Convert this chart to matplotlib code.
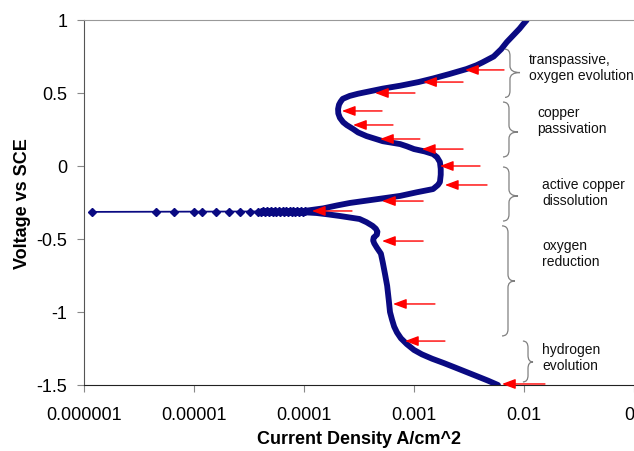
import matplotlib
matplotlib.use("Agg")
import matplotlib.pyplot as plt
from matplotlib.path import Path
from matplotlib.patches import PathPatch

plt.rcParams["font.family"] = ["Liberation Sans", "DejaVu Sans"]

# cathodic branch: -1.5 V up to the corrosion potential (current in A/cm^2)
cath_V = [-1.50, -1.47, -1.44, -1.41, -1.38, -1.35, -1.32, -1.29, -1.26, -1.22, -1.18,
          -1.14, -1.10, -1.05, -1.00, -0.92, -0.82, -0.74, -0.66, -0.60, -0.56, -0.53,
          -0.51, -0.49, -0.47, -0.45, -0.43, -0.41, -0.385, -0.363, -0.342, -0.33,
          -0.322, -0.318]
cath_I = [5.8e-3, 4.7e-3, 3.74e-3, 2.97e-3, 2.36e-3, 1.87e-3, 1.46e-3, 1.18e-3, 1.0e-3,
          8.6e-4, 7.6e-4, 7.0e-4, 6.6e-4, 6.3e-4, 6.05e-4, 5.9e-4, 5.7e-4, 5.45e-4,
          5.2e-4, 5.0e-4, 4.6e-4, 4.35e-4, 4.25e-4, 4.3e-4, 4.6e-4, 4.65e-4, 4.5e-4,
          4.2e-4, 3.7e-4, 3.2e-4, 2.1e-4, 1.6e-4, 1.3e-4, 1.05e-4]

# low-current points around Ecorr, in sweep order (cathodic side -> minimum -> anodic side)
tail_I = [9.7e-5, 9.0e-5, 8.3e-5, 7.7e-5, 7.1e-5, 6.6e-5, 6.1e-5, 5.6e-5, 5.2e-5, 4.8e-5,
          4.4e-5, 4.1e-5,
          3.8e-5, 3.2e-5, 2.6e-5, 2.1e-5, 1.58e-5, 1.18e-5, 1.0e-5, 6.6e-6, 4.5e-6, 1.18e-6,
          4.2e-5, 4.6e-5, 5.0e-5, 5.4e-5, 5.9e-5, 6.4e-5, 6.9e-5, 7.4e-5, 8.0e-5, 8.7e-5,
          9.4e-5, 1.02e-4]
tail_V = [-0.318, -0.318, -0.318, -0.318, -0.317, -0.317, -0.317, -0.317, -0.316, -0.316,
          -0.315, -0.315,
          -0.313, -0.313, -0.313, -0.313, -0.313, -0.313, -0.313, -0.313, -0.313, -0.313,
          -0.310, -0.310, -0.309, -0.309, -0.308, -0.308, -0.307, -0.307, -0.307, -0.306,
          -0.306, -0.306]

# anodic branch: corrosion potential up to +1 V
anod_V = [-0.306, -0.29, -0.27, -0.253, -0.23, -0.205, -0.18, -0.158, -0.13, -0.11, -0.06,
          -0.02, 0.027, 0.06, 0.082, 0.10, 0.116, 0.135, 0.15, 0.17, 0.185, 0.205, 0.23,
          0.253, 0.28, 0.30, 0.33, 0.36, 0.39, 0.42, 0.44, 0.46, 0.48, 0.495, 0.507, 0.53,
          0.55, 0.575, 0.60, 0.63, 0.664, 0.69, 0.71, 0.75, 0.80, 0.85, 0.90, 0.94, 0.97, 1.0]
anod_I = [1.05e-4, 1.5e-4, 2.0e-4, 2.62e-4, 4.33e-4, 7.46e-4, 1.06e-3, 1.49e-3, 1.65e-3,
          1.72e-3, 1.75e-3, 1.75e-3, 1.72e-3, 1.62e-3, 1.49e-3, 1.25e-3, 1.0e-3, 8.6e-4,
          7.5e-4, 5.2e-4, 4.5e-4, 3.7e-4, 3.1e-4, 2.8e-4, 2.45e-4, 2.27e-4, 2.12e-4, 2.05e-4,
          2.04e-4, 2.08e-4, 2.15e-4, 2.25e-4, 2.6e-4, 3.1e-4, 3.7e-4, 5.2e-4, 7.5e-4, 1.1e-3,
          1.5e-3, 2.1e-3, 3.0e-3, 3.7e-3, 4.2e-3, 5.3e-3, 6.2e-3, 7.0e-3, 8.1e-3, 9.1e-3,
          9.8e-3, 1.06e-2]

# red arrows pointing at the curve
arrow_V = [0.658, 0.575, 0.50, 0.377, 0.281, 0.185, 0.116, 0.0, -0.13, -0.24, -0.308,
           -0.514, -0.945, -1.199, -1.493]
arrow_head_I = [2.91e-3, 1.21e-3, 4.42e-4, 2.21e-4, 2.79e-4, 4.91e-4, 1.18e-3, 1.72e-3,
                1.91e-3, 5.12e-4, 1.18e-4, 5.12e-4, 6.44e-4, 8.28e-4, 6.31e-3]
arrow_tail_I = [6.58e-3, 2.79e-3, 1.02e-3, 5.12e-4, 6.44e-4, 1.13e-3, 2.79e-3, 3.98e-3,
                4.61e-3, 1.21e-3, 2.73e-4, 1.21e-3, 1.55e-3, 1.91e-3, 1.55e-2]

# region labels with the voltage span of each brace
phase_text = ["transpassive,\noxygen evolution", "copper\npassivation",
              "active copper\ndissolution", "oxygen\nreduction", "hydrogen\nevolution"]
phase_top = [0.80, 0.438, -0.007, -0.41, -1.199]
phase_bot = [0.47, 0.062, -0.377, -1.164, -1.479]
phase_tip = [0.64, 0.233, -0.205, -0.788, -1.342]
phase_text_V = [0.678, 0.315, -0.178, -0.596, -1.308]

xticks = [1e-6, 1e-5, 1e-4, 1e-3, 1e-2, 1e-1]
xtick_labels = ["0.000001", "0.00001", "0.0001", "0.001", "0.01", "0"]
yticks = [1, 0.5, 0, -0.5, -1, -1.5]
ytick_labels = ["1", "0.5", "0", "-0.5", "-1", "-1.5"]

NAVY = "#0a0a82"


def brace(ax, x_end, x_mid, x_tip, top, bot, tip, r=0.045):
    """curly '}' brace; x in axes fraction, y in data volts"""
    verts = [(x_end, top), (x_mid, top), (x_mid, top - r),
             (x_mid, tip + r), (x_mid, tip), (x_tip, tip),
             (x_mid, tip), (x_mid, tip - r),
             (x_mid, bot + r), (x_mid, bot), (x_end, bot)]
    codes = [Path.MOVETO, Path.CURVE3, Path.CURVE3,
             Path.LINETO, Path.CURVE3, Path.CURVE3,
             Path.CURVE3, Path.CURVE3,
             Path.LINETO, Path.CURVE3, Path.CURVE3]
    ax.add_patch(PathPatch(Path(verts, codes), fill=False, ec="#808080", lw=0.9,
                           transform=ax.get_yaxis_transform(), clip_on=False))


fig = plt.figure(figsize=(6.34, 4.52), dpi=100)
ax = fig.add_axes([84 / 634, 66 / 452, 550 / 634, 365 / 452])

# main polarisation curve (dense Excel diamonds -> thick band)
ax.plot(cath_I, cath_V, color=NAVY, lw=4.2, solid_capstyle="round", solid_joinstyle="round")
ax.plot(anod_I, anod_V, color=NAVY, lw=4.2, solid_capstyle="round", solid_joinstyle="round")
ax.plot(tail_I, tail_V, color=NAVY, lw=1.0, marker="D", ms=3.6, mec=NAVY, mfc=NAVY)

for v, hi, ti in zip(arrow_V, arrow_head_I, arrow_tail_I):
    ax.annotate("", xy=(hi, v), xytext=(ti, v),
                arrowprops=dict(arrowstyle="-|>,head_length=0.8,head_width=0.3",
                                color="#ff0000", lw=1.0, mutation_scale=10,
                                shrinkA=0, shrinkB=0))

brace_x = [(0.7655, 0.7745, 0.7927), (0.7618, 0.7727, 0.7891), (0.7618, 0.7727, 0.7891),
           (0.760, 0.7709, 0.7836), (0.798, 0.8073, 0.8164)]
text_x = [0.809, 0.8236, 0.8327, 0.8327, 0.8327]
for k in range(len(phase_text)):
    xe, xm, xt = brace_x[k]
    brace(ax, xe, xm, xt, phase_top[k], phase_bot[k], phase_tip[k])
    ax.text(text_x[k], phase_text_V[k], phase_text[k], transform=ax.get_yaxis_transform(),
            ha="left", va="center", fontsize=10, color="#111111", linespacing=1.15,
            clip_on=False)

ax.set_xscale("log")
ax.set_xlim(1e-6, 1e-1)
ax.set_ylim(-1.5, 1)
ax.set_xticks(xticks)
ax.set_xticklabels(xtick_labels)
ax.minorticks_off()
ax.set_yticks(yticks)
ax.set_yticklabels(ytick_labels)
ax.tick_params(axis="both", labelsize=13, length=5, color="#888888", direction="out")
ax.tick_params(axis="x", pad=10)
ax.tick_params(axis="y", pad=7)
ax.get_xticklabels()[-1].set_ha("right")   # Excel squeezes the last label inside the frame

ax.spines["left"].set_color("#555555")
ax.spines["bottom"].set_color("#222222")
ax.spines["top"].set_color("#999999")
ax.spines["right"].set_visible(False)

ax.set_xlabel("Current Density A/cm^2", fontsize=13, fontweight="bold", labelpad=5)
ax.set_ylabel("Voltage vs SCE", fontsize=13, fontweight="bold", labelpad=4)

fig.savefig("out.png", dpi=100)
